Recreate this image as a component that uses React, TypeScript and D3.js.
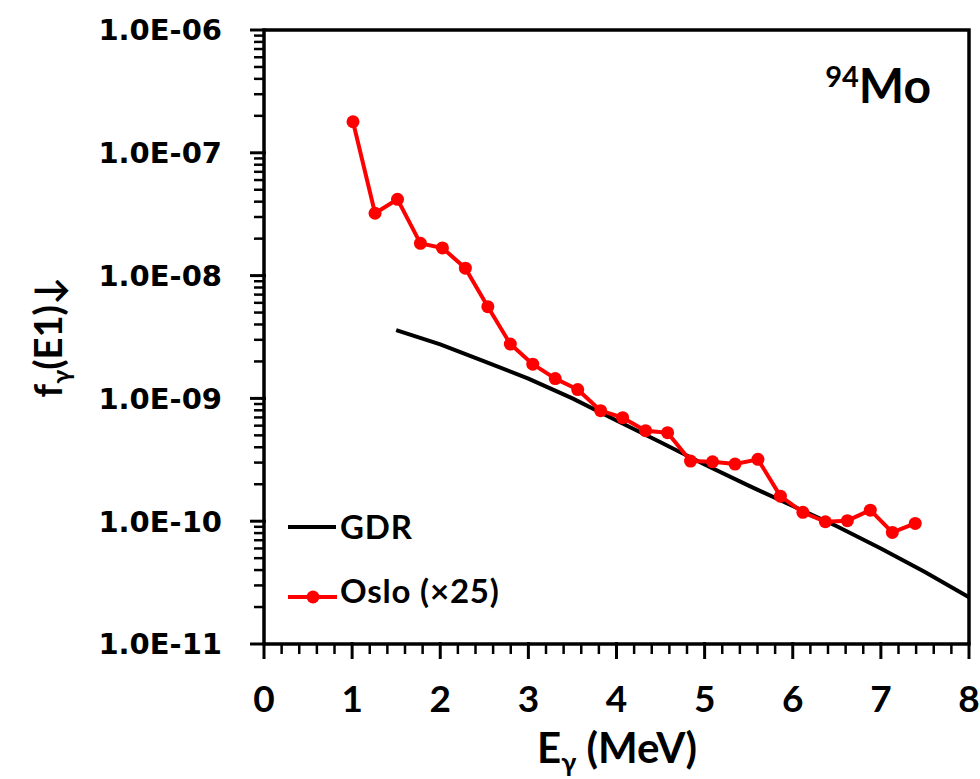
import React, { useEffect, useRef } from 'react';
import * as d3 from 'd3';

// Oslo data (x25)
const osloE = [1.01, 1.26, 1.515, 1.775, 2.025, 2.285, 2.54, 2.795, 3.05, 3.305, 3.56, 3.82, 4.07, 4.33, 4.58, 4.84, 5.09, 5.345, 5.605, 5.86, 6.115, 6.37, 6.62, 6.88, 7.13, 7.39];
const osloF = [1.79e-7, 3.22e-8, 4.18e-8, 1.83e-8, 1.68e-8, 1.15e-8, 5.58e-9, 2.77e-9, 1.9e-9, 1.45e-9, 1.18e-9, 7.94e-10, 6.97e-10, 5.46e-10, 5.26e-10, 3.09e-10, 3.05e-10, 2.92e-10, 3.19e-10, 1.6e-10, 1.18e-10, 9.9e-11, 1.01e-10, 1.23e-10, 8.1e-11, 9.6e-11];

// GDR curve
const gdrE = [1.5, 2.0, 2.5, 3.0, 3.5, 4.0, 4.5, 5.0, 5.5, 6.0, 6.5, 7.0, 7.5, 8.0];
const gdrF = [3.6e-9, 2.75e-9, 2.0e-9, 1.45e-9, 1.0e-9, 6.6e-10, 4.4e-10, 2.9e-10, 1.95e-10, 1.33e-10, 9.1e-11, 6.0e-11, 3.85e-11, 2.4e-11];

const xTicks = [0, 1, 2, 3, 4, 5, 6, 7, 8];
const yTicks = [1e-6, 1e-7, 1e-8, 1e-9, 1e-10, 1e-11];
const yTickLabels = ['1.0E-06', '1.0E-07', '1.0E-08', '1.0E-09', '1.0E-10', '1.0E-11'];

const App = () => {
  const ref = useRef<SVGSVGElement>(null);

  useEffect(() => {
    const svg = d3.select(ref.current);
    svg.selectAll('*').remove();

    const left = 264, right = 969, top = 30, bottom = 644;
    const x = d3.scaleLinear().domain([0, 8]).range([left, right]);
    const y = d3.scaleLog().domain([1e-11, 1e-6]).range([bottom, top]);

    const numFont = 'DejaVu Sans, Verdana, sans-serif';
    const txtFont = 'Lato, "Open Sans", sans-serif';

    // minor ticks y
    const minorY: number[] = [];
    for (let p = -11; p < -6; p++) {
      for (let k = 2; k <= 9; k++) minorY.push(k * Math.pow(10, p));
    }
    svg.append('g').selectAll('line').data(minorY).enter().append('line')
      .attr('x1', left - 10).attr('x2', left)
      .attr('y1', d => y(d)).attr('y2', d => y(d))
      .attr('stroke', '#000').attr('stroke-width', 2.5);
    svg.append('g').selectAll('line').data(yTicks).enter().append('line')
      .attr('x1', left - 14).attr('x2', left + 2)
      .attr('y1', d => y(d)).attr('y2', d => y(d))
      .attr('stroke', '#000').attr('stroke-width', 3);

    // minor ticks x
    const minorX: number[] = [];
    for (let i = 0; i < 8; i++) for (let k = 1; k <= 4; k++) minorX.push(i + k * 0.2);
    svg.append('g').selectAll('line').data(minorX).enter().append('line')
      .attr('x1', d => x(d)).attr('x2', d => x(d))
      .attr('y1', bottom).attr('y2', bottom + 10)
      .attr('stroke', '#000').attr('stroke-width', 2.5);
    svg.append('g').selectAll('line').data(xTicks).enter().append('line')
      .attr('x1', d => x(d)).attr('x2', d => x(d))
      .attr('y1', bottom - 2).attr('y2', bottom + 15)
      .attr('stroke', '#000').attr('stroke-width', 3);

    // frame
    svg.append('rect')
      .attr('x', left).attr('y', top)
      .attr('width', right - left).attr('height', bottom - top)
      .attr('fill', 'none').attr('stroke', '#000').attr('stroke-width', 3.5);

    // tick labels
    svg.append('g').selectAll('text').data(yTicks).enter().append('text')
      .attr('x', 222).attr('y', d => y(d))
      .attr('dy', '0.36em')
      .attr('text-anchor', 'end')
      .attr('font-family', numFont).attr('font-weight', 'bold').attr('font-size', 29)
      .text((d, i) => yTickLabels[i]);
    svg.append('g').selectAll('text').data(xTicks).enter().append('text')
      .attr('x', d => x(d)).attr('y', 712)
      .attr('text-anchor', 'middle')
      .attr('font-family', txtFont).attr('font-weight', 'bold').attr('font-size', 37)
      .text(d => String(d));

    // GDR line
    const line = d3.line<[number, number]>().x(d => x(d[0])).y(d => y(d[1]));
    const gdr: [number, number][] = gdrE.map((e, i) => [e, gdrF[i]]);
    svg.append('path').datum(gdr)
      .attr('d', line).attr('fill', 'none')
      .attr('stroke', '#000').attr('stroke-width', 4);

    // Oslo
    const oslo: [number, number][] = osloE.map((e, i) => [e, osloF[i]]);
    svg.append('path').datum(oslo)
      .attr('d', line).attr('fill', 'none')
      .attr('stroke', '#ff0000').attr('stroke-width', 4).attr('stroke-linejoin', 'round');
    svg.append('g').selectAll('circle').data(oslo).enter().append('circle')
      .attr('cx', d => x(d[0])).attr('cy', d => y(d[1]))
      .attr('r', 6.5).attr('fill', '#ff0000');

    // legend
    const lg = svg.append('g').attr('font-family', txtFont).attr('font-weight', 'bold')
      .attr('font-size', 33).attr('letter-spacing', 0.8);
    lg.append('line').attr('x1', 288).attr('x2', 336).attr('y1', 527).attr('y2', 527)
      .attr('stroke', '#000').attr('stroke-width', 4);
    lg.append('text').attr('x', 340).attr('y', 539).text('GDR');
    lg.append('line').attr('x1', 288).attr('x2', 337).attr('y1', 597).attr('y2', 597)
      .attr('stroke', '#ff0000').attr('stroke-width', 4);
    lg.append('circle').attr('cx', 313).attr('cy', 597).attr('r', 6.5).attr('fill', '#ff0000');
    lg.append('text').attr('x', 340).attr('y', 603).text('Oslo (×25)');

    // nucleus label
    const nl = svg.append('text').attr('x', 931).attr('y', 103)
      .attr('text-anchor', 'end')
      .attr('font-family', txtFont).attr('font-weight', 'bold').attr('font-size', 48);
    nl.append('tspan').attr('font-size', 29).attr('dy', -16).text('94');
    nl.append('tspan').attr('dy', 16).text('Mo');

    // x title
    const xt = svg.append('text').attr('x', 617).attr('y', 763)
      .attr('text-anchor', 'middle')
      .attr('font-family', txtFont).attr('font-weight', 'bold').attr('font-size', 42);
    xt.append('tspan').text('E');
    xt.append('tspan').attr('font-size', 27).attr('dy', 9).text('γ');
    xt.append('tspan').attr('dy', -9).text(' (MeV)');

    // y title
    const yt = svg.append('text')
      .attr('transform', 'translate(62,337) rotate(-90)')
      .attr('text-anchor', 'middle')
      .attr('font-family', txtFont).attr('font-weight', 'bold').attr('font-size', 38);
    yt.append('tspan').text('f');
    yt.append('tspan').attr('font-size', 25).attr('dy', 8).text('γ');
    yt.append('tspan').attr('dy', -8).text('(E1)↓');
  }, []);

  return (
    <svg ref={ref} width={980} height={779}
      style={{ position: 'absolute', left: 0, top: 0, background: '#fff' }} />
  );
};

export default App;
